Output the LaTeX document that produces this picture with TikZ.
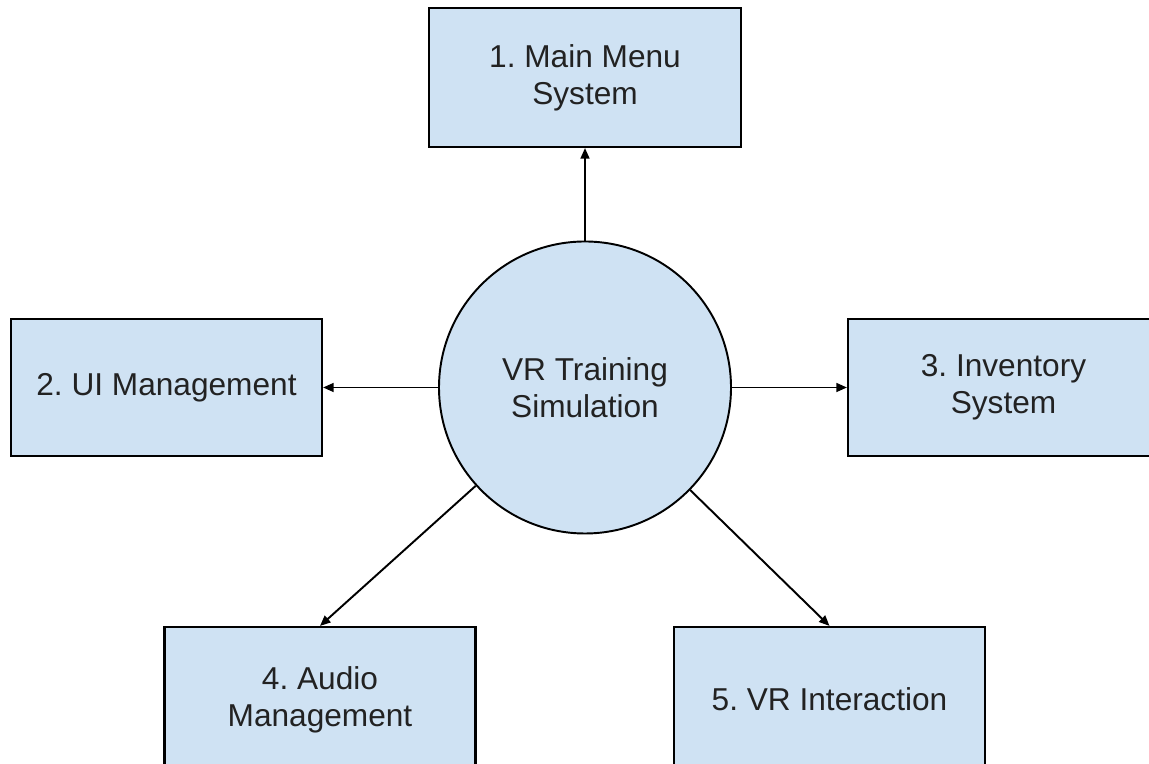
\documentclass[tikz,border=0pt]{standalone}
\usepackage{fontspec}
\setmainfont{Liberation Sans}
\usetikzlibrary{arrows.meta, positioning}
\definecolor{boxblue}{RGB}{207,226,243}
\definecolor{txtgray}{RGB}{34,34,34}
\frenchspacing

\begin{document}
\begin{tikzpicture}[
  every node/.style={font=\fontsize{18}{21}\selectfont, text=txtgray},
  box/.style={draw, fill=boxblue, line width=1.2pt, minimum width=6.22cm, minimum height=2.74cm, align=center, inner sep=0pt},
  hub/.style={draw, fill=boxblue, circle, line width=1.1pt, minimum size=5.84cm, align=center, inner sep=0pt},
  arr/.style={-{Triangle[length=6pt,width=5pt]}, line width=1.1pt}
]
  \useasboundingbox (0,0) rectangle (22.98,15.28);
  \node[hub] (sim) at (11.70,7.53) {VR Training\\Simulation};
  \node[box, minimum width=6.24cm, minimum height=2.78cm] (menu) at (11.70,13.73) {1. Main Menu\\System};
  \node[box] (ui) at (3.33,7.53) {2. UI Management};
  \node[box] (inv) at (20.07,7.53) {3. Inventory\\System};
  \node[box, minimum height=2.9cm] (audio) at (6.40,1.29) {4. Audio\\Management};
  \node[box, minimum height=2.9cm] (vr) at (16.59,1.29) {5. VR Interaction};
  \draw[arr] (sim) -- (menu);
  \draw[arr] (sim) -- (ui);
  \draw[arr] (sim) -- (inv);
  \draw[arr] (sim) -- (audio.north);
  \draw[arr] (sim) -- (vr.north);
\end{tikzpicture}
\end{document}
